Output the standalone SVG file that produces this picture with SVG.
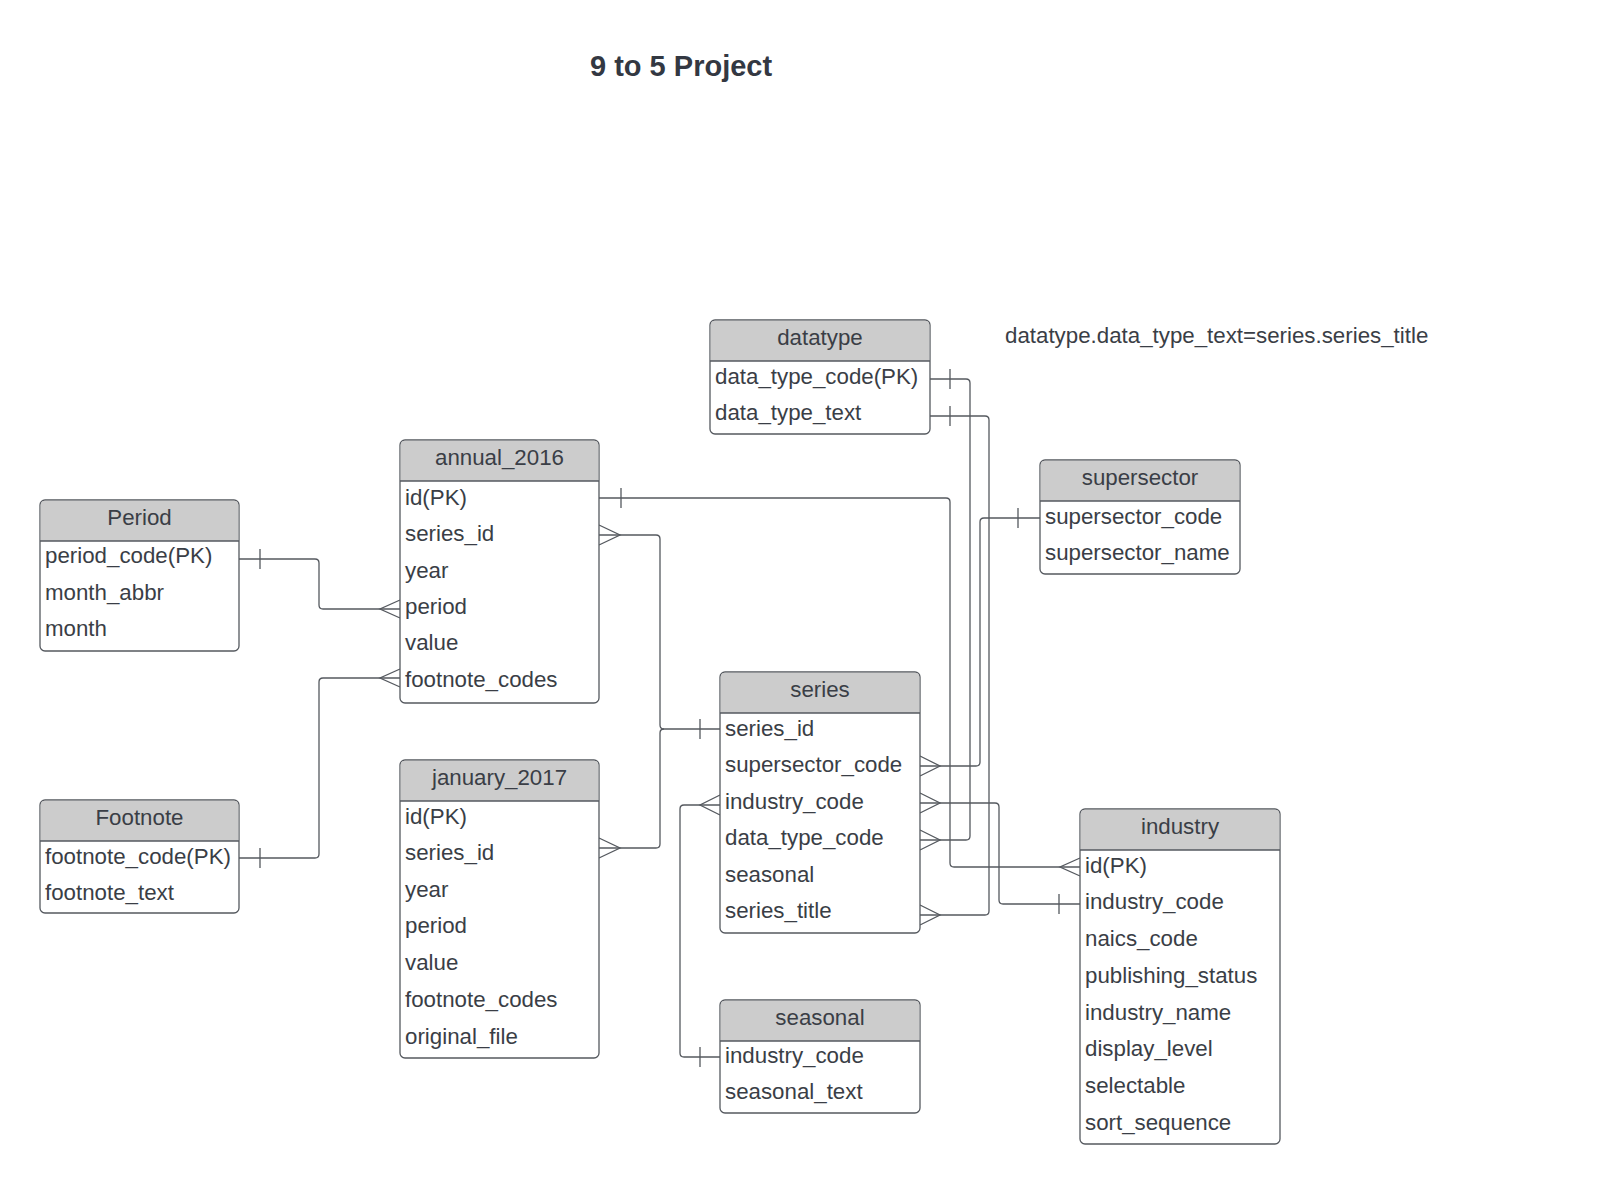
<svg xmlns="http://www.w3.org/2000/svg" width="1603" height="1185" viewBox="0 0 1603 1185">
<style>
text{font-family:"Liberation Sans",Arial,sans-serif;font-size:22.3px;fill:#3a3e46}
.title{font-size:29px;font-weight:bold;fill:#333842}
.hd{text-anchor:middle}
.box{fill:#ffffff;stroke:#55595f;stroke-width:1.3}
.hfill{fill:#cccccc}
.hline{stroke:#55595f;stroke-width:1.3}
.c{fill:none;stroke:#55595f;stroke-width:1.3}
</style>
<rect width="1603" height="1185" fill="#ffffff"/>
<text class="title" x="590" y="76">9 to 5 Project</text>
<text x="1005" y="343">datatype.data_type_text=series.series_title</text>

<g id="connectors">
  <!-- Period.period_code -> annual_2016.period -->
  <path class="c" d="M239,559 H315 Q319,559 319,563 V605 Q319,609 323,609 H400"/>
  <path class="c" d="M260,549 V569 M400,600 L380,609 L400,618"/>
  <!-- Footnote.footnote_code -> annual_2016.footnote_codes -->
  <path class="c" d="M239,858 H315 Q319,858 319,854 V682 Q319,678 323,678 H400"/>
  <path class="c" d="M260,848 V868 M400,669 L380,678 L400,687"/>
  <!-- annual_2016.series_id -> series.series_id -->
  <path class="c" d="M599,535 H656 Q660,535 660,539 V725 Q660,729 664,729 H720"/>
  <path class="c" d="M599,525 L620,535 L599,545 M700,719 V739"/>
  <!-- january_2017.series_id -> series.series_id -->
  <path class="c" d="M599,848 H656 Q660,848 660,844 V733 Q660,729 664,729"/>
  <path class="c" d="M599,838 L620,848 L599,858"/>
  <!-- annual_2016.id -> industry.id -->
  <path class="c" d="M599,498 H946 Q950,498 950,502 V863 Q950,867 954,867 H1080"/>
  <path class="c" d="M621,488 V508 M1080,858 L1060,867 L1080,876"/>
  <!-- datatype.data_type_code -> series.data_type_code -->
  <path class="c" d="M930,379 H966 Q970,379 970,383 V836 Q970,840 966,840 H920"/>
  <path class="c" d="M950,369 V389 M920,830 L940,840 L920,850"/>
  <!-- datatype.data_type_text -> series.series_title -->
  <path class="c" d="M930,416 H985 Q989,416 989,420 V911 Q989,915 985,915 H920"/>
  <path class="c" d="M950,406 V426 M920,905 L940,915 L920,925"/>
  <!-- supersector.supersector_code -> series.supersector_code -->
  <path class="c" d="M1040,518 H984 Q980,518 980,522 V762 Q980,766 976,766 H920"/>
  <path class="c" d="M1018,508 V528 M920,756 L940,766 L920,776"/>
  <!-- series.industry_code -> industry.industry_code -->
  <path class="c" d="M920,803 H995 Q999,803 999,807 V900 Q999,904 1003,904 H1080"/>
  <path class="c" d="M920,793 L940,803 L920,813 M1059,894 V914"/>
  <!-- seasonal.industry_code -> series.industry_code -->
  <path class="c" d="M720,1057 H684 Q680,1057 680,1053 V809 Q680,805 684,805 H720"/>
  <path class="c" d="M700,1047 V1067 M720,795 L700,805 L720,815"/>
</g>

<g id="datatype">
  <rect class="box" x="710" y="320" width="220" height="114" rx="5"/>
  <path class="hfill" d="M715,320.7 H925 Q929.3,320.7 929.3,325 V361 H710.7 V325 Q710.7,320.7 715,320.7 Z"/>
  <line class="hline" x1="710" y1="361" x2="930" y2="361"/>
  <text class="hd" x="820" y="345">datatype</text>
  <text x="715" y="384">data_type_code(PK)</text>
  <text x="715" y="420">data_type_text</text>
</g>

<g id="annual_2016">
  <rect class="box" x="400" y="440" width="199" height="263" rx="5"/>
  <path class="hfill" d="M405,440.7 H594 Q598.3,440.7 598.3,445 V481 H400.7 V445 Q400.7,440.7 405,440.7 Z"/>
  <line class="hline" x1="400" y1="481" x2="599" y2="481"/>
  <text class="hd" x="499.5" y="465">annual_2016</text>
  <text x="405" y="505">id(PK)</text>
  <text x="405" y="541">series_id</text>
  <text x="405" y="578">year</text>
  <text x="405" y="614">period</text>
  <text x="405" y="650">value</text>
  <text x="405" y="687">footnote_codes</text>
</g>

<g id="period">
  <rect class="box" x="40" y="500" width="199" height="151" rx="5"/>
  <path class="hfill" d="M45,500.7 H234 Q238.3,500.7 238.3,505 V541 H40.7 V505 Q40.7,500.7 45,500.7 Z"/>
  <line class="hline" x1="40" y1="541" x2="239" y2="541"/>
  <text class="hd" x="139.5" y="525">Period</text>
  <text x="45" y="563">period_code(PK)</text>
  <text x="45" y="600">month_abbr</text>
  <text x="45" y="636">month</text>
</g>

<g id="footnote">
  <rect class="box" x="40" y="800" width="199" height="113" rx="5"/>
  <path class="hfill" d="M45,800.7 H234 Q238.3,800.7 238.3,805 V841 H40.7 V805 Q40.7,800.7 45,800.7 Z"/>
  <line class="hline" x1="40" y1="841" x2="239" y2="841"/>
  <text class="hd" x="139.5" y="825">Footnote</text>
  <text x="45" y="864">footnote_code(PK)</text>
  <text x="45" y="900">footnote_text</text>
</g>

<g id="january_2017">
  <rect class="box" x="400" y="760" width="199" height="298" rx="5"/>
  <path class="hfill" d="M405,760.7 H594 Q598.3,760.7 598.3,765 V801 H400.7 V765 Q400.7,760.7 405,760.7 Z"/>
  <line class="hline" x1="400" y1="801" x2="599" y2="801"/>
  <text class="hd" x="499.5" y="785">january_2017</text>
  <text x="405" y="824">id(PK)</text>
  <text x="405" y="860">series_id</text>
  <text x="405" y="897">year</text>
  <text x="405" y="933">period</text>
  <text x="405" y="970">value</text>
  <text x="405" y="1007">footnote_codes</text>
  <text x="405" y="1044">original_file</text>
</g>

<g id="series">
  <rect class="box" x="720" y="672" width="200" height="261" rx="5"/>
  <path class="hfill" d="M725,672.7 H915 Q919.3,672.7 919.3,677 V713 H720.7 V677 Q720.7,672.7 725,672.7 Z"/>
  <line class="hline" x1="720" y1="713" x2="920" y2="713"/>
  <text class="hd" x="820" y="697">series</text>
  <text x="725" y="736">series_id</text>
  <text x="725" y="772">supersector_code</text>
  <text x="725" y="809">industry_code</text>
  <text x="725" y="845">data_type_code</text>
  <text x="725" y="882">seasonal</text>
  <text x="725" y="918">series_title</text>
</g>

<g id="seasonal">
  <rect class="box" x="720" y="1000" width="200" height="113" rx="5"/>
  <path class="hfill" d="M725,1000.7 H915 Q919.3,1000.7 919.3,1005 V1041 H720.7 V1005 Q720.7,1000.7 725,1000.7 Z"/>
  <line class="hline" x1="720" y1="1041" x2="920" y2="1041"/>
  <text class="hd" x="820" y="1025">seasonal</text>
  <text x="725" y="1063">industry_code</text>
  <text x="725" y="1099">seasonal_text</text>
</g>

<g id="supersector">
  <rect class="box" x="1040" y="460" width="200" height="114" rx="5"/>
  <path class="hfill" d="M1045,460.7 H1235 Q1239.3,460.7 1239.3,465 V501 H1040.7 V465 Q1040.7,460.7 1045,460.7 Z"/>
  <line class="hline" x1="1040" y1="501" x2="1240" y2="501"/>
  <text class="hd" x="1140" y="485">supersector</text>
  <text x="1045" y="524">supersector_code</text>
  <text x="1045" y="560">supersector_name</text>
</g>

<g id="industry">
  <rect class="box" x="1080" y="809" width="200" height="335" rx="5"/>
  <path class="hfill" d="M1085,809.7 H1275 Q1279.3,809.7 1279.3,814 V850 H1080.7 V814 Q1080.7,809.7 1085,809.7 Z"/>
  <line class="hline" x1="1080" y1="850" x2="1280" y2="850"/>
  <text class="hd" x="1180" y="834">industry</text>
  <text x="1085" y="873">id(PK)</text>
  <text x="1085" y="909">industry_code</text>
  <text x="1085" y="946">naics_code</text>
  <text x="1085" y="983">publishing_status</text>
  <text x="1085" y="1020">industry_name</text>
  <text x="1085" y="1056">display_level</text>
  <text x="1085" y="1093">selectable</text>
  <text x="1085" y="1130">sort_sequence</text>
</g>
</svg>
